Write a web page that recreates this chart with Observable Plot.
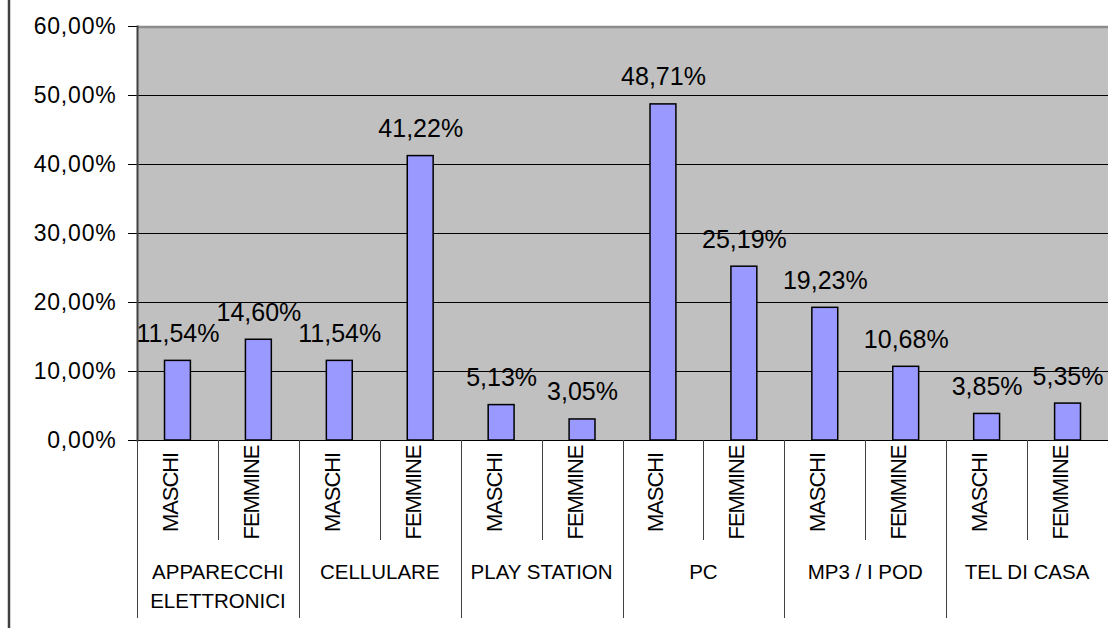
<!DOCTYPE html>
<html>
<head>
<meta charset="utf-8">
<script src="https://cdn.jsdelivr.net/npm/d3@7"></script>
<script src="https://cdn.jsdelivr.net/npm/@observablehq/plot@0.6"></script>
<style>
  html, body { margin: 0; padding: 0; background: #fff; }
  #chart { width: 1108px; height: 628px; overflow: hidden; }
</style>
</head>
<body>
<div id="chart"></div>
<script>
// ---- data ----
const groups = ["APPARECCHI\nELETTRONICI", "CELLULARE", "PLAY STATION", "PC", "MP3 / I POD", "TEL DI CASA"];
const sexes = ["MASCHI", "FEMMINE"];
const maschi = [0.1154, 0.1154, 0.0513, 0.4871, 0.1923, 0.0385];
const femmine = [0.1460, 0.4122, 0.0305, 0.2519, 0.1068, 0.0535];
const yTicks = [0, 0.1, 0.2, 0.3, 0.4, 0.5, 0.6];

const fmt = v => d3.format(".2f")(v * 100).replace(".", ",") + "%";

const data = [];
groups.forEach((g, i) => {
  data.push({key: i + "-M", group: g, sex: sexes[0], value: maschi[i]});
  data.push({key: i + "-F", group: g, sex: sexes[1], value: femmine[i]});
});
const keys = data.map(d => d.key);

const FONT = "'Liberation Sans', Arial, Helvetica, sans-serif";

const plot = Plot.plot({
  width: 1108,
  height: 628,
  marginLeft: 137,
  marginRight: 0,
  marginTop: 26,
  marginBottom: 188,
  style: {fontFamily: FONT, fontSize: "20px", color: "#000", background: "#fff"},
  x: {domain: keys, paddingInner: 0.68, paddingOuter: 0.34, round: false, axis: null},
  y: {domain: [0, 0.6], label: null, axis: null},
  marks: [
    Plot.frame({fill: "#c0c0c0", stroke: null}),
    Plot.gridY(yTicks.slice(0, -1), {stroke: "#000", strokeOpacity: 1, strokeWidth: 1}),
    Plot.ruleY([0.6], {stroke: "#8c8c8c", strokeWidth: 2.5, dy: 0.5}),
    Plot.axisY(yTicks, {tickFormat: fmt, tickSize: 9, tickPadding: 12, fontSize: 23, label: null, stroke: "#000"}),
    Plot.barY(data, {x: "key", y: "value", fill: "#9999ff", stroke: "#000", strokeWidth: 1.5}),
    Plot.frame({anchor: "left", stroke: "#404040", strokeWidth: 2}),
    Plot.text(data, {x: "key", y: "value", text: d => fmt(d.value), lineAnchor: "bottom", dy: -19, fontSize: 25, fill: "#000"}),
    Plot.text(data, {x: "key", text: "sex", frameAnchor: "bottom", rotate: -90, dy: 52, fontSize: 22, fill: "#000"})
  ]
});
document.getElementById("chart").append(plot);

// ---- category separators and group labels, placed with the plot's own scales ----
const svg = d3.select(plot);
const xs = plot.scale("x"), ys = plot.scale("y");
const step = xs.step != null ? xs.step : (xs.apply(keys[1]) - xs.apply(keys[0]));
const bw = xs.bandwidth != null ? xs.bandwidth : 0;
const off = (step - bw) / 2;
const y0 = ys.apply(0);

const sep = svg.append("g").attr("stroke", "#404040").attr("stroke-width", 1);
data.forEach((d, i) => {
  const x = Math.round(xs.apply(d.key) - off) + 0.5;
  sep.append("line").attr("x1", x).attr("x2", x).attr("y1", y0).attr("y2", y0 + (i % 2 === 0 ? 178 : 100));
});

const lab = svg.append("g").attr("font-size", 20.5).attr("text-anchor", "middle").attr("fill", "#000")
  .attr("font-family", FONT);
groups.forEach((g, i) => {
  const x = xs.apply(data[2 * i].key) - off + step;
  const t = lab.append("text").attr("y", y0 + 139);
  g.split("\n").forEach((s, j) => t.append("tspan").attr("x", x).attr("dy", j ? 29 : 0).text(s));
});

// letter spacing tweaks to match the original rendering
svg.selectAll("text").each(function () {
  const t = this.textContent;
  if (t === "MASCHI" || t === "FEMMINE") d3.select(this).attr("letter-spacing", "-1.1px");
});
svg.selectAll('g[aria-label="y-axis tick label"] text').attr("letter-spacing", "0.8px");

// outer chart border (left edge)
svg.append("line").attr("x1", 9).attr("x2", 9).attr("y1", 0).attr("y2", 628)
  .attr("stroke", "#404040").attr("stroke-width", 2.5);
</script>
</body>
</html>
